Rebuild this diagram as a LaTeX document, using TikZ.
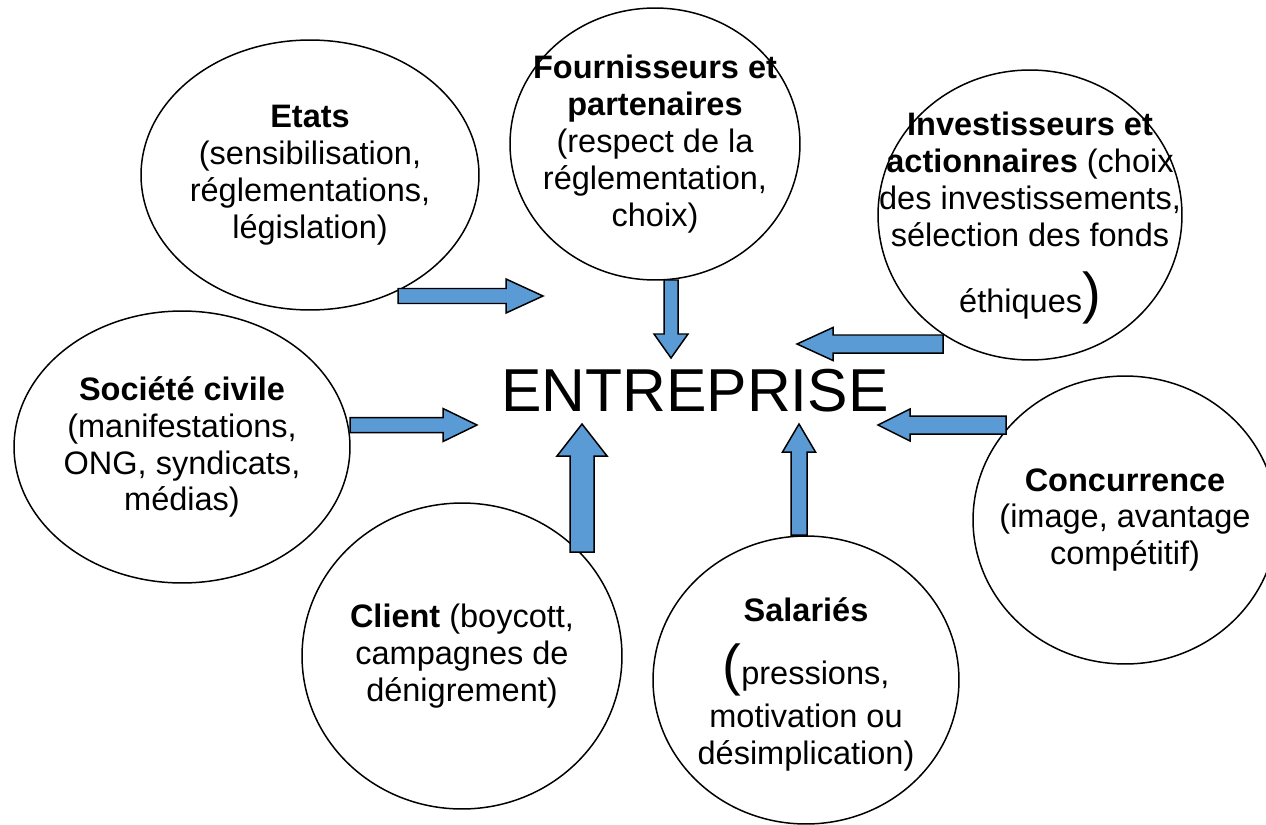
\documentclass[tikz,border=0pt]{standalone}
\usepackage{fontspec}
\setmainfont{Liberation Sans}
\usetikzlibrary{shapes.geometric, calc}
\definecolor{arrowblue}{HTML}{5B9BD5}
\newcommand{\bigparen}[1]{{\fontsize{32}{32}\selectfont #1}}
\newcommand{\blockarrow}[5]{%
    \draw [blockarrow] let \p1 = (#1), \p2 = (#2),
        \n1 = {atan2(\y2-\y1, \x2-\x1)},
        \n2 = {veclen(\x2-\x1, \y2-\y1)} in
        [shift={(\p1)}, rotate=\n1]
        (0pt, {#3*0.02cm}) -- ({\n2*1pt-#5*0.02cm}, {#3*0.02cm})
        -- ({\n2*1pt-#5*0.02cm}, {#4*0.02cm}) -- ({\n2*1pt}, 0pt)
        -- ({\n2*1pt-#5*0.02cm}, {-#4*0.02cm})
        -- ({\n2*1pt-#5*0.02cm}, {-#3*0.02cm})
        -- (0pt, {-#3*0.02cm}) -- cycle;}
\tikzset{
    bubble/.style={draw, ellipse, line width=0.85pt, inner sep=0pt},
    bubbletext/.style={align=center, inner sep=0pt,
        font=\fontsize{18.5}{21}\selectfont},
    blockarrow/.style={draw, fill=arrowblue, line width=0.85pt}
}

\begin{document}
\begin{tikzpicture}[x=0.02cm, y=-0.02cm]
                \useasboundingbox (0, 0) rectangle (1266, 824);

                \node [bubble, minimum width=6.76cm, minimum height=5.4cm]
                    (etats) at (310, 175) {};
                \node [bubble, minimum width=5.8cm, minimum height=5.44cm]
                    (fourn) at (655, 144) {};
                \node [bubble, minimum width=6.08cm, minimum height=5.8cm]
                    (invest) at (1030, 215) {};
                \node [bubble, minimum width=6.72cm, minimum height=5.44cm]
                    (societe) at (182, 447) {};
                \node [bubble, minimum width=6.4cm, minimum height=6.12cm]
                    (client) at (462, 656) {};
                \node [bubble, minimum width=6.12cm, minimum height=5.76cm]
                    (salaries) at (806, 680) {};
                \node [bubble, minimum width=6.08cm, minimum height=5.76cm]
                    (concur) at (1125, 520) {};

                \node [bubbletext] (etats_t) at (etats)
                    {\textbf{Etats}\\(sensibilisation,\\réglementations,\\législation)};
                \node [bubbletext] (fourn_t) at (fourn)
                    {\textbf{Fournisseurs et}\\\textbf{partenaires}\\(respect de la\\réglementation,\\choix)};
                \node [bubbletext] (invest_t) at (1030, 218)
                    {\textbf{Investisseurs et}\\\textbf{actionnaires} (choix\\des investissements,\\sélection des fonds\\[13pt]éthiques\bigparen{)}};
                \node [bubbletext] (societe_t) at (societe)
                    {\textbf{Société civile}\\(manifestations,\\ONG, syndicats,\\médias)};
                \node [bubbletext] (client_t) at (client)
                    {\textbf{Client} (boycott,\\campagnes de\\dénigrement)};
                \node [bubbletext] (salaries_t) at (806, 684)
                    {\textbf{Salariés}\\[12pt]\bigparen{(}pressions,\\[3pt]motivation ou\\désimplication)};
                \node [bubbletext] (concur_t) at (concur)
                    {\textbf{Concurrence}\\(image, avantage\\compétitif)};

                \node [anchor=base, inner sep=0pt, font=\fontsize{34.5}{34.5}\selectfont]
                    (ent) at (695, 411) {ENTREPRISE};

                \coordinate (etats_o) at (398, 296);
                \coordinate (ent_a) at (543, 296);
                \coordinate (fourn_o) at (671, 280);
                \coordinate (ent_b) at (671, 358);
                \coordinate (invest_o) at (943, 344);
                \coordinate (ent_c) at (797, 344);
                \coordinate (societe_o) at (350, 425);
                \coordinate (ent_d) at (477, 425);
                \coordinate (concur_o) at (1006, 425);
                \coordinate (ent_e) at (878, 425);
                \coordinate (client_o) at (582, 552);
                \coordinate (ent_f) at (582, 424);
                \coordinate (salaries_o) at (799, 535);
                \coordinate (ent_g) at (799, 424);

                \foreach \a/\b/\w/\W/\h in {etats_o/ent_a/7.5/17/37,
                        fourn_o/ent_b/7/17/24, invest_o/ent_c/9/16.5/36,
                        societe_o/ent_d/7.5/16.5/34, concur_o/ent_e/9/16/32,
                        client_o/ent_f/12/25/32, salaries_o/ent_g/8/16.5/28}
                    \blockarrow{\a}{\b}{\w}{\W}{\h};
            \end{tikzpicture}
\end{document}
